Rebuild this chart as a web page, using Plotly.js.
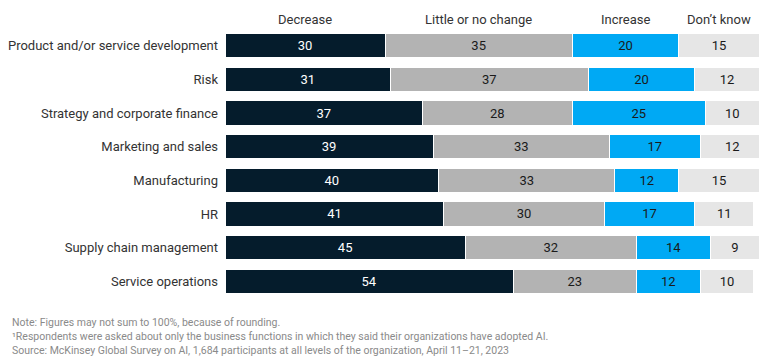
<!DOCTYPE html>
<html><head><meta charset="utf-8">
<script src="https://cdn.plot.ly/plotly-3.0.1.min.js"></script>
<style>html,body{margin:0;padding:0;background:#fff}</style>
</head><body><div id="chart" style="width:768px;height:361px"></div>
<script>
const categories = ["Product and/or service development","Risk","Strategy and corporate finance","Marketing and sales","Manufacturing","HR","Supply chain management","Service operations"];
const decrease = [30,31,37,39,40,41,45,54];
const littleChange = [35,37,28,33,33,30,32,23];
const increase = [20,20,25,17,12,17,14,12];
const dontKnow = [15,12,10,12,15,11,9,10];
const seriesNames = ["Decrease","Little or no change","Increase","Don\u2019t know"];
const colors = ["#051c2c","#b3b3b3","#00a9f4","#e6e6e6"];
const textColors = ["#ffffff","#1a1a1a","#1a1a1a","#1a1a1a"];
const notes = ["Note: Figures may not sum to 100%, because of rounding.",
 "\u00b9Respondents were asked about only the business functions in which they said their organizations have adopted AI.",
 "Source: McKinsey Global Survey on AI, 1,684 participants at all levels of the organization, April 11\u201321, 2023"];

const FONT = "Roboto, 'Liberation Sans', sans-serif";
const all = [decrease, littleChange, increase, dontKnow];
const traces = all.map((vals,i)=>({
  type:'bar', orientation:'h', y:categories, x:vals, name:seriesNames[i],
  marker:{color:colors[i], line:{color:'#ffffff', width:1}},
  text:vals.map(String), textposition:'inside', insidetextanchor:'middle',
  textangle:0, constraintext:'none',
  textfont:{family:FONT, size:13, color:textColors[i]},
  hoverinfo:'none', showlegend:false
}));

// header annotations centered over first row segments
const annotations = [];
let cum = 0;
all.forEach((vals,i)=>{
  const c = cum + vals[0]/2; cum += vals[0];
  annotations.push({x:c, y:1, xref:'x', yref:'paper', yshift:0, yanchor:'bottom',
    text:seriesNames[i], showarrow:false, font:{family:FONT, size:13, color:'#333'}});
});
notes.forEach((t,i)=>{
  annotations.push({x:0, xref:'paper', xshift:-214, y:0, yref:'paper', yshift:-(17+i*13.8), yanchor:'top', xanchor:'left',
    borderpad:0, text:t, showarrow:false, align:'left', font:{family:FONT, size:10.5, color:'#8a8a8a'}});
});

const layout = {
  width:768, height:361, barmode:'stack', bargap:0.28,
  margin:{l:225, r:9, t:29, b:63},
  paper_bgcolor:'#fff', plot_bgcolor:'#fff',
  font:{family:FONT, size:13, color:'#333'},
  xaxis:{range:[0,100], visible:false, fixedrange:true},
  yaxis:{type:'category', autorange:'reversed', showgrid:false, zeroline:false, showline:false,
    ticks:'', ticklabelstandoff:6, tickfont:{family:FONT, size:13, color:'#333'}},
  annotations:annotations
};
Plotly.newPlot('chart', traces, layout, {displayModeBar:false, staticPlot:true});
</script></body></html>
